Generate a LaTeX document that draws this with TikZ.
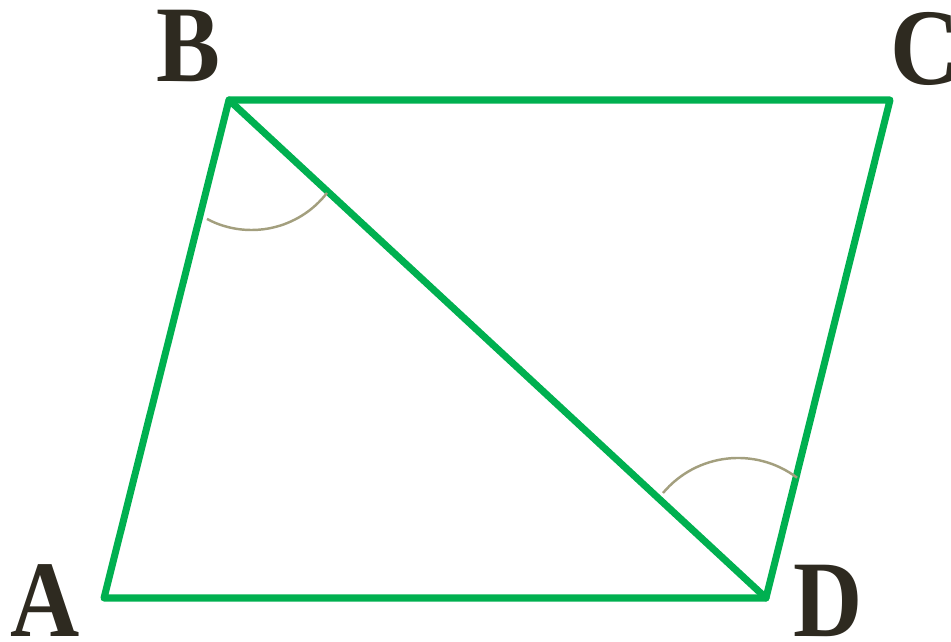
\documentclass[tikz,border=0pt]{standalone}
\usepackage{fontspec}
\setmainfont{Liberation Serif}

\begin{document}
\begin{tikzpicture}[x=0.02cm,y=0.02cm,line width=4pt,
  side/.style={draw=edgegreen,line join=round,line cap=round},
  anglemark/.style={draw=arcgray,line width=1.4pt},
  vertex/.style={text=labeldark,font=\fontsize{62}{62}\selectfont\bfseries,inner sep=0pt,xscale=0.88}]
  \definecolor{edgegreen}{HTML}{00B050}
  \definecolor{arcgray}{HTML}{A39F7E}
  \definecolor{labeldark}{HTML}{2E2A20}
  \useasboundingbox (0,0) rectangle (951,642);

  \coordinate (A) at (104,44);
  \coordinate (B) at (229,542);
  \coordinate (C) at (890,542);
  \coordinate (D) at (766,44);

  \draw[side] (A) -- (B) -- (C) -- (D) -- cycle;
  \draw[side] (B) -- (D);

  \draw[anglemark] (207,423) arc[start angle=242.2,end angle=322.3,radius=95.4];
  \draw[anglemark] (663,149) arc[start angle=140,end angle=53,radius=98];

  \node[vertex] (labA) at (45,41) {A};
  \node[vertex] (labB) at (188,596) {B};
  \node[vertex] (labC) at (925,593) {C};
  \node[vertex] (labD) at (828,41) {D};
\end{tikzpicture}
\end{document}
